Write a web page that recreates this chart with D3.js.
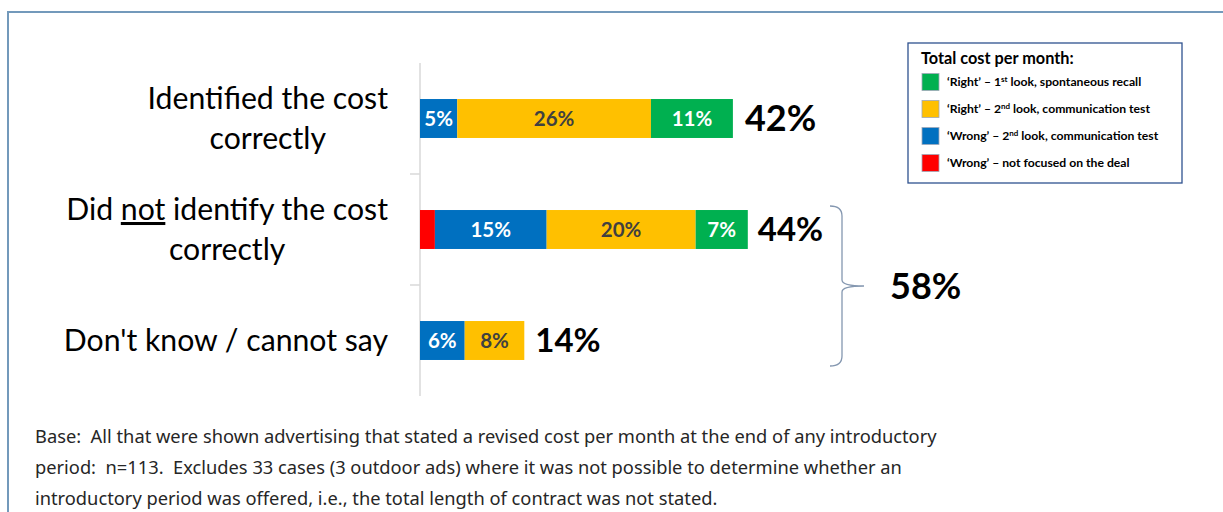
<!DOCTYPE html>
<html>
<head>
<meta charset="utf-8">
<script src="https://cdn.jsdelivr.net/npm/d3@7"></script>
<style>
  html, body { margin: 0; padding: 0; background: #fff; }
  svg { display: block; }
  text.foot { white-space: pre; }
</style>
</head>
<body>
<svg id="chart" width="1223" height="512"></svg>
<script>
// ---- data ----
const categories = ["Identified the cost correctly", "Did not identify the cost correctly", "Don't know / cannot say"];
const categoryLines = [
  [[{t: "Identified the cost"}], [{t: "correctly"}]],
  [[{t: "Did "}, {t: "not", u: true}, {t: " identify the cost"}], [{t: "correctly"}]],
  [[{t: "Don't know / cannot say"}]]
];
const seriesNames = ["'Wrong' – not focused on the deal", "'Wrong' – 2nd look, communication test", "'Right' – 2nd look, communication test", "'Right' – 1st look, spontaneous recall"];
const seriesKeys = ["wrongNotFocused", "wrong2nd", "right2nd", "right1st"];
const wrongNotFocused = [0, 2, 0];
const wrong2nd = [5, 15, 6];
const right2nd = [26, 20, 8];
const right1st = [11, 7, 0];
const totals = ["42%", "44%", "14%"];
const bracketTotal = "58%";
const legendTitle = "Total cost per month:";
const legendItems = [
  {key: "right1st", parts: [["‘Right’ – 1", ""], ["st", "sup"], [" look, spontaneous recall", "after"]]},
  {key: "right2nd", parts: [["‘Right’ – 2", ""], ["nd", "sup"], [" look, communication test", "after"]]},
  {key: "wrong2nd", parts: [["‘Wrong’ – 2", ""], ["nd", "sup"], [" look, communication test", "after"]]},
  {key: "wrongNotFocused", parts: [["‘Wrong’ – not focused on the deal", ""]]}
];
const footnoteLines = [
  "Base:  All that were shown advertising that stated a revised cost per month at the end of any introductory",
  "period:  n=113.  Excludes 33 cases (3 outdoor ads) where it was not possible to determine whether an",
  "introductory period was offered, i.e., the total length of contract was not stated."
];

// ---- styles ----
const colors = {wrongNotFocused: "#ff0000", wrong2nd: "#0070c0", right2nd: "#ffc000", right1st: "#00b050"};
const labelColors = {wrongNotFocused: "#ffffff", wrong2nd: "#ffffff", right2nd: "#404040", right1st: "#ffffff"};
const seriesData = {wrongNotFocused, wrong2nd, right2nd, right1st};

const svg = d3.select("#chart");
svg.append("rect").attr("width", 1223).attr("height", 512).attr("fill", "#fff");

// outer frame
svg.append("path")
  .attr("d", "M8,512 V12 H1223")
  .attr("fill", "none").attr("stroke", "#7399bb").attr("stroke-width", 2);

const rows = categories.map((c, i) => {
  const o = {cat: c};
  seriesKeys.forEach(k => o[k] = seriesData[k][i]);
  return o;
});

const y = d3.scaleBand().domain(categories).range([63, 396]).paddingInner(0.649).paddingOuter(0.3245);
const x = d3.scaleLinear().domain([0, 100]).range([420, 1165]);

// axis line and ticks at band boundaries
const axisG = svg.append("g").attr("class", "axis");
axisG.append("line").attr("x1", x(0)).attr("x2", x(0)).attr("y1", y.range()[0]).attr("y2", y.range()[1])
  .attr("stroke", "#d9d9d9").attr("stroke-width", 1.5);
const bounds = categories.slice(1).map(c => y(c) - y.step() * y.paddingInner() / 2);
axisG.selectAll("line.tick").data(bounds).join("line").attr("class", "tick")
  .attr("x1", x(0) - 10).attr("x2", x(0)).attr("y1", d => d).attr("y2", d => d)
  .attr("stroke", "#d9d9d9").attr("stroke-width", 1.5);

// stacked bars
const stack = d3.stack().keys(seriesKeys);
const stacked = stack(rows);
const layer = svg.selectAll("g.layer").data(stacked).join("g").attr("class", "layer")
  .attr("fill", d => colors[d.key]);
layer.selectAll("rect").data(d => d.map(v => ({v, key: d.key}))).join("rect")
  .attr("x", d => x(d.v[0]))
  .attr("width", d => x(d.v[1]) - x(d.v[0]))
  .attr("y", d => y(d.v.data.cat))
  .attr("height", y.bandwidth());

// segment labels
layer.selectAll("text").data(d => d.map(v => ({v, key: d.key})).filter(d => d.v[1] - d.v[0] >= 4)).join("text")
  .attr("x", d => (x(d.v[0]) + x(d.v[1])) / 2)
  .attr("y", d => y(d.v.data.cat) + y.bandwidth() / 2 + 7.5)
  .attr("text-anchor", "middle")
  .attr("fill", d => labelColors[d.key])
  .attr("font-family", "Lato, 'Noto Sans', sans-serif")
  .attr("font-weight", 700)
  .attr("font-size", 20.5)
  .text(d => (d.v[1] - d.v[0]) + "%");

// totals
const totalSizes = [36, 33, 33];
const totalGaps = [12, 10, 11];
svg.selectAll("text.total").data(rows).join("text").attr("class", "total")
  .attr("x", (d, i) => x(d3.sum(seriesKeys, k => d[k])) + totalGaps[i])
  .attr("y", (d, i) => y(d.cat) + y.bandwidth() / 2 + totalSizes[i] * 0.36)
  .attr("font-family", "Lato, 'Noto Sans', sans-serif")
  .attr("font-weight", 700)
  .attr("font-size", (d, i) => totalSizes[i])
  .attr("fill", "#000")
  .text((d, i) => totals[i]);

// category labels (multi-line, centred block, right edge at 388)
const catFont = "Lato, 'Noto Sans', sans-serif";
const catSize = 30.2;
categories.forEach((c, i) => {
  const lines = categoryLines[i];
  const cy = y(c) + y.bandwidth() / 2;
  const lh = 40;
  const n = lines.length;
  const g = svg.append("g");
  const texts = lines.map((ln, j) => {
    const t = g.append("text")
      .attr("y", cy + (j - (n - 1) / 2) * lh + 10.5)
      .attr("text-anchor", "middle")
      .attr("font-family", catFont).attr("font-size", catSize).attr("fill", "#000");
    ln.forEach(p => {
      const ts = t.append("tspan").text(p.t);
      if (p.u) ts.style("text-decoration", "underline");
    });
    return t;
  });
  const maxW = d3.max(texts, t => t.node().getComputedTextLength());
  texts.forEach(t => t.attr("x", 388 - maxW / 2));
});

// bracket
const bTop = y(categories[1]) - 4, bBot = y(categories[2]) + y.bandwidth() + 6;
const bMid = (bTop + bBot) / 2;
const bx = 842, bl = 830, tip = 864;
svg.append("path")
  .attr("d", `M${bl},${bTop} Q${bx},${bTop} ${bx},${bTop + 10} V${bMid - 6} Q${bx},${bMid} ${tip},${bMid} Q${bx},${bMid} ${bx},${bMid + 6} V${bBot - 10} Q${bx},${bBot} ${bl},${bBot}`)
  .attr("fill", "none").attr("stroke", "#8497b0").attr("stroke-width", 1.3);
svg.append("text").attr("x", 890).attr("y", bMid + 13)
  .attr("font-family", "Lato, 'Noto Sans', sans-serif").attr("font-weight", 700)
  .attr("font-size", 36).attr("fill", "#000").text(bracketTotal);

// legend
const lg = svg.append("g").attr("transform", "translate(908,43)");
lg.append("rect").attr("width", 274).attr("height", 140).attr("fill", "#fff")
  .attr("stroke", "#2f528f").attr("stroke-width", 1.3);
lg.append("text").attr("x", 13).attr("y", 21).attr("font-family", "Lato, 'Noto Sans', sans-serif")
  .attr("font-weight", 700).attr("font-size", 16.3).attr("fill", "#000").text(legendTitle);
const li = lg.selectAll("g.item").data(legendItems).join("g").attr("class", "item")
  .attr("transform", (d, i) => `translate(14,${38.5 + i * 27})`);
li.append("rect").attr("x", 0).attr("y", -8).attr("width", 17).attr("height", 17)
  .attr("fill", d => colors[d.key]).attr("stroke", "#a0a8b8").attr("stroke-width", 0.8);
const lt = li.append("text").attr("x", 25).attr("y", 4.5)
  .attr("font-family", "Lato, 'Noto Sans', sans-serif").attr("font-weight", 700)
  .attr("font-size", 12.2).attr("fill", "#000");
lt.selectAll("tspan").data(d => d.parts).join("tspan")
  .attr("font-size", p => p[1] === "sup" ? 8 : null)
  .attr("dy", p => p[1] === "sup" ? -4.5 : (p[1] === "after" ? 4.5 : 0))
  .text(p => p[0]);

// footnote
svg.selectAll("text.foot").data(footnoteLines).join("text").attr("class", "foot")
  .attr("x", 35).attr("y", (d, i) => 443 + i * 31)
  .attr("font-family", "'Noto Sans', 'Open Sans', sans-serif").attr("font-size", 18.3)
  .attr("fill", "#262626").text(d => d);
</script>
</body>
</html>
